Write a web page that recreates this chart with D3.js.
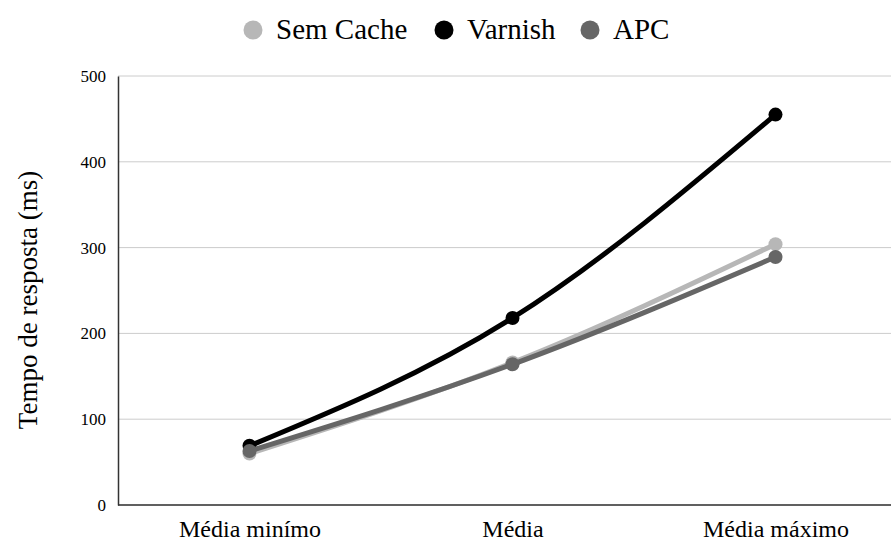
<!DOCTYPE html>
<html>
<head>
<meta charset="utf-8">
<script src="https://cdn.jsdelivr.net/npm/d3@7"></script>
<style>
  body { margin: 0; background: #fff; }
</style>
</head>
<body>
<div id="chart"></div>
<script>
let categories = ["Média minímo", "Média", "Média máximo"];
let seriesNames = ["Sem Cache", "Varnish", "APC"];
let semCache = [60, 166, 304];
let varnish = [69, 218, 455];
let apc = [63, 164, 289];
let yTicks = [0, 100, 200, 300, 400, 500];
let colors = ["#b7b7b7", "#000000", "#666666"];

let fontStack = "'Liberation Serif', 'Times New Roman', serif";

let series = [
  {name: seriesNames[0], values: semCache, color: colors[0]},
  {name: seriesNames[1], values: varnish, color: colors[1]},
  {name: seriesNames[2], values: apc, color: colors[2]}
];

let width = 891, height = 543;
let margin = {top: 76, right: -16, bottom: 38, left: 118};

let svg = d3.select("#chart").append("svg")
            .attr("width", width)
            .attr("height", height)
            .style("font-family", fontStack);

let xScale = d3.scalePoint()
               .domain(categories)
               .range([margin.left, width - margin.right])
               .padding(0.5);

let yScale = d3.scaleLinear()
               .domain([0, 500])
               .range([height - margin.bottom, margin.top]);

// gridlines
svg.append("g")
   .selectAll("line")
   .data(yTicks)
   .enter()
   .append("line")
   .attr("x1", margin.left)
   .attr("x2", width)
   .attr("y1", d => yScale(d))
   .attr("y2", d => yScale(d))
   .attr("stroke", "#cccccc")
   .attr("stroke-width", 1);

// y axis
let yAxis = d3.axisLeft(yScale)
    .tickValues(yTicks)
    .tickSize(0)
    .tickPadding(12);

let gy = svg.append("g")
   .attr("transform", "translate(" + margin.left + ",0)")
   .call(yAxis);
gy.attr("font-family", null);
gy.select(".domain").attr("stroke", "#333").attr("stroke-width", 1.5);
gy.selectAll("text").style("font-family", fontStack).style("font-size", "17px").attr("fill", "#000");

// x axis
let xAxis = d3.axisBottom(xScale).tickSize(0).tickPadding(15);
let gx = svg.append("g")
   .attr("transform", "translate(0," + yScale(0) + ")")
   .call(xAxis);
gx.attr("font-family", null);
gx.select(".domain").remove();
gx.selectAll("text").style("font-family", fontStack).style("font-size", "24px").attr("fill", "#000");
svg.append("line")
   .attr("x1", margin.left).attr("x2", width)
   .attr("y1", yScale(0)).attr("y2", yScale(0))
   .attr("stroke", "#333").attr("stroke-width", 1.5);

// y title
svg.append("text")
   .attr("transform", "translate(37,300) rotate(-90)")
   .attr("text-anchor", "middle")
   .style("font-family", fontStack)
   .style("font-size", "27px")
   .text("Tempo de resposta (ms)");

let line = d3.line()
    .x((d, i) => xScale(categories[i]))
    .y(d => yScale(d))
    .curve(d3.curveMonotoneX);

// draw in order: Sem Cache, Varnish, APC
series.forEach(function(s) {
  svg.append("path")
     .datum(s.values)
     .attr("d", line)
     .attr("fill", "none")
     .attr("stroke", s.color)
     .attr("stroke-width", 5);
  svg.selectAll(null)
     .data(s.values)
     .enter()
     .append("circle")
     .attr("cx", (d, i) => xScale(categories[i]))
     .attr("cy", d => yScale(d))
     .attr("r", 7)
     .attr("fill", s.color);
});

// legend
let legendX = [253, 444, 590];
let legend = svg.append("g");
series.forEach(function(s, i) {
  legend.append("circle")
        .attr("cx", legendX[i])
        .attr("cy", 30)
        .attr("r", 9.5)
        .attr("fill", s.color);
  legend.append("text")
        .attr("x", legendX[i] + 23)
        .attr("y", 39)
        .style("font-family", fontStack)
        .style("font-size", "29px")
        .text(s.name);
});
</script>
</body>
</html>
